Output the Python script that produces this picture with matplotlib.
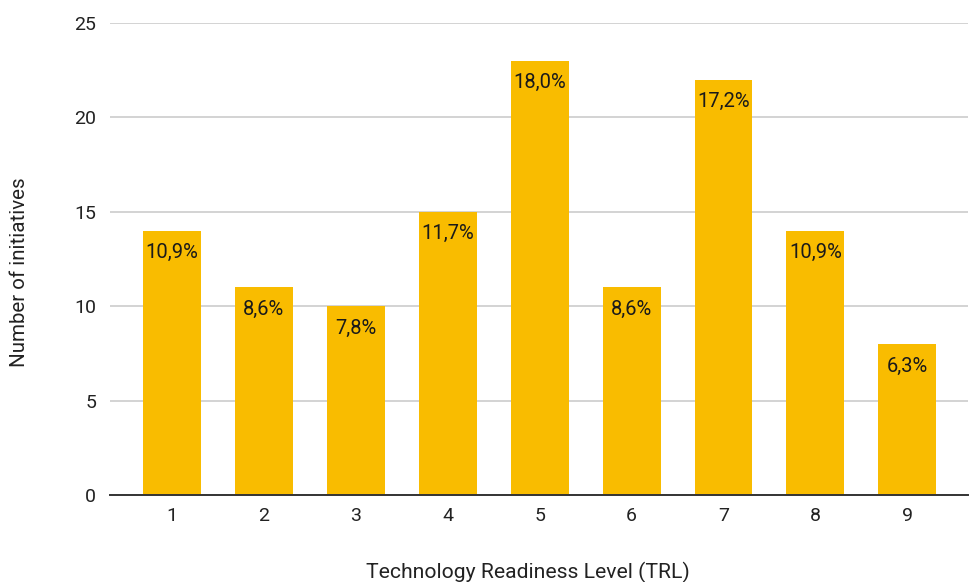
import matplotlib
matplotlib.use("Agg")
import matplotlib.pyplot as plt

# Number of initiatives per Technology Readiness Level
trl_levels = ["1", "2", "3", "4", "5", "6", "7", "8", "9"]
initiatives = [14, 11, 10, 15, 23, 11, 22, 14, 8]
share_labels = ["10,9%", "8,6%", "7,8%", "11,7%", "18,0%", "8,6%", "17,2%", "10,9%", "6,3%"]
y_ticks = [0, 5, 10, 15, 20, 25]

plt.rcParams["font.family"] = ["Roboto", "DejaVu Sans"]

fig = plt.figure(figsize=(9.7, 5.82), dpi=100)
ax = fig.add_axes([0.1134, 0.1495, 0.8845, 0.811])

x = list(range(1, len(trl_levels) + 1))
bars = ax.bar(x, initiatives, width=0.63, color="#F9BC00", zorder=3)

for xi, v, lab in zip(x, initiatives, share_labels):
    ax.annotate(lab, (xi, v), xytext=(0, -9), textcoords="offset points",
                ha="center", va="top", fontsize=14.5, color="#1a1a1a", zorder=4)

ax.set_xlim(0.325, 9.66)
ax.set_ylim(0, 25)
ax.set_yticks(y_ticks)
ax.set_xticks(x)
ax.set_xticklabels(trl_levels)
ax.tick_params(axis="both", length=0, labelsize=14, colors="#222222")
ax.tick_params(axis="y", pad=10)
ax.tick_params(axis="x", pad=9)

ax.grid(axis="y", color="#c8c8c8", linewidth=1.1, zorder=0)
for s in ["top", "right", "left"]:
    ax.spines[s].set_visible(False)
ax.spines["bottom"].set_color("#333333")
ax.spines["bottom"].set_linewidth(1.4)
ax.spines["bottom"].set_zorder(5)

fig.text(20 / 970, 1 - 272 / 582, "Number of initiatives", rotation=90,
         ha="center", va="center", fontsize=14.8, color="#222222")
fig.text(528 / 970, 1 - 572 / 582, "Technology Readiness Level (TRL)",
         ha="center", va="center", fontsize=15.2, color="#222222")

fig.savefig("out.png", dpi=100)
